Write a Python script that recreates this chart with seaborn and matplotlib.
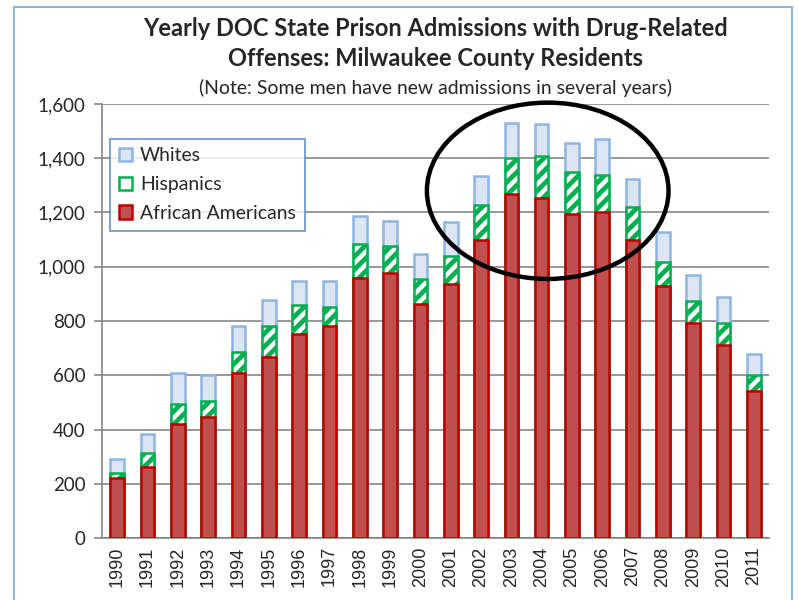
import pandas as pd
import matplotlib
matplotlib.use('Agg')
import matplotlib.pyplot as plt
import seaborn as sns
from matplotlib.patches import Patch, Ellipse, Rectangle

# Dados
anos = [str(a) for a in range(1990, 2012)]
afro_americanos = [221, 262, 422, 446, 608, 667, 753, 783, 959, 976, 863,
                   937, 1100, 1268, 1252, 1194, 1200, 1099, 930, 793, 712, 541]
hispanicos = [19, 52, 73, 59, 77, 116, 106, 70, 125, 99, 92,
              104, 128, 134, 157, 156, 139, 120, 86, 79, 80, 61]
brancos = [53, 71, 113, 97, 98, 96, 87, 96, 104, 95, 92,
           125, 107, 127, 116, 105, 133, 104, 113, 98, 95, 77]
y_ticks = [0, 200, 400, 600, 800, 1000, 1200, 1400, 1600]

df = pd.DataFrame({'ano': anos, 'aa': afro_americanos, 'hisp': hispanicos, 'brancos': brancos})
df['aa_hisp'] = df['aa'] + df['hisp']
df['total'] = df['aa_hisp'] + df['brancos']

# dpi maior para o tracejado ficar com o espaçamento certo; S converte tamanhos pensados a 100 dpi
DPI = 156
S = 100 / DPI

sns.set_style('white')
plt.rcParams['font.family'] = ['Lato', 'DejaVu Sans']
plt.rcParams['hatch.linewidth'] = 3.4 * S

fig = plt.figure(figsize=(799 / DPI, 600 / DPI), dpi=DPI)
ax = fig.add_axes([0.1277, 0.1033, 0.8348, 0.7234])

# camadas acumuladas: total, depois aa+hisp, depois aa
sns.barplot(x='ano', y='total', data=df, color='#DCE6F2', edgecolor='#8EB4E3',
            linewidth=1.8 * S, width=0.45, ax=ax, saturation=1, zorder=3)
sns.barplot(x='ano', y='aa_hisp', data=df, color='white', edgecolor='#00B050',
            linewidth=1.8 * S, width=0.45, hatch='////', ax=ax, saturation=1, zorder=3)
sns.barplot(x='ano', y='aa', data=df, color='#C0504D', edgecolor='#C00000',
            linewidth=1.8 * S, width=0.45, ax=ax, saturation=1, zorder=3)

ax.set_xlim(-0.5, len(anos) - 0.5)
ax.set_ylim(0, 1600)
ax.set_yticks(y_ticks)
ax.set_yticklabels([f'{v:,}' for v in y_ticks], fontsize=13.5 * S)
ax.set_xticks(range(len(anos)))
ax.set_xticklabels(anos, rotation=90, fontsize=13 * S, family='Liberation Sans')
ax.set_xticks([i - 0.5 for i in range(len(anos) + 1)], minor=True)
ax.tick_params(axis='x', which='major', length=0, pad=6 * S)
ax.tick_params(axis='x', which='minor', length=6 * S, color='#868686', width=1.2 * S)
ax.tick_params(axis='y', length=6 * S, color='#868686', width=1.2 * S, pad=6 * S, left=True)
ax.set_xlabel('')
ax.set_ylabel('')
ax.yaxis.grid(True, color='#868686', linewidth=1.2 * S, zorder=0)
ax.set_axisbelow(True)
for s in ['top', 'right']:
    ax.spines[s].set_visible(False)
for s in ['left', 'bottom']:
    ax.spines[s].set_color('#868686')
    ax.spines[s].set_linewidth(1.2 * S)

# elipse de destaque 2002-2007
ax.add_patch(Ellipse((14.2, 1280), 7.97, 650, fill=False, edgecolor='black',
                     linewidth=3.2 * S, zorder=5, clip_on=False))

handles = [Patch(facecolor='#DCE6F2', edgecolor='#8EB4E3', linewidth=1.8 * S, label='Whites'),
           Patch(facecolor='white', edgecolor='#00B050', linewidth=1.8 * S, label='Hispanics'),
           Patch(facecolor='#C0504D', edgecolor='#C00000', linewidth=1.8 * S, label='African Americans')]
leg = ax.legend(handles=handles, loc='upper left', bbox_to_anchor=(0.012, 0.92),
                fontsize=14 * S, frameon=True, fancybox=False, handlelength=0.7,
                handleheight=0.7, handletextpad=0.4, labelspacing=0.6,
                borderpad=0.45, borderaxespad=0)
leg.get_frame().set_edgecolor('#4F81BD')
leg.get_frame().set_linewidth(1.3 * S)
leg.set_zorder(6)

# títulos
fig.text(0.545, 0.953, 'Yearly DOC State Prison Admissions with Drug-Related',
         ha='center', va='center', fontsize=17 * S, fontweight='bold')
fig.text(0.545, 0.903, 'Offenses: Milwaukee County Residents',
         ha='center', va='center', fontsize=17 * S, fontweight='bold')
fig.text(0.545, 0.853, '(Note: Some men have new admissions in several years)',
         ha='center', va='center', fontsize=14 * S)

# moldura
fig.patches.append(Rectangle((14 / 799, -0.05), (792 - 14) / 799, 1.05 - 7 / 600,
                             transform=fig.transFigure, fill=False,
                             edgecolor='#8EB4E3', linewidth=1.5 * S))

plt.savefig('out.png', dpi=DPI)
plt.close()
